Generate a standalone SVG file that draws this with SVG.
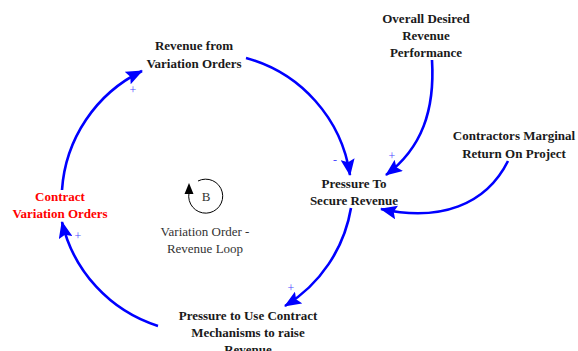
<svg xmlns="http://www.w3.org/2000/svg" width="578" height="351" viewBox="0 0 578 351">
  <style>
    text { font-family: 'Liberation Serif', 'Times New Roman', Tinos, 'DejaVu Serif', serif; }
    .node { font-size: 13px; font-weight: bold; fill: #1a1a1a; text-anchor: middle; }
    .red { fill: #ff0000; }
    .link { fill: none; stroke: #0000ff; stroke-width: 2.6; marker-end: url(#head); }
    .pol { font-size: 12px; fill: #4a4aff; text-anchor: middle; }
    .loop { font-size: 13px; fill: #333333; text-anchor: middle; }
  </style>
  <defs>
    <marker id="head" markerUnits="userSpaceOnUse" markerWidth="18" markerHeight="14" refX="16" refY="7" orient="auto">
      <path d="M0,0 L17,7 L0,14 L3,7 Z" fill="#0000ff"/>
    </marker>
  </defs>
  <rect width="578" height="351" fill="#ffffff"/>

  <!-- causal links -->
  <g id="connectors">
    <path class="link" d="M62,190 A143,143 0 0 1 142,71"/>
    <path class="link" d="M246,58 A143,143 0 0 1 350,175"/>
    <path class="link" d="M432,60 C435,110 422,148 386,175"/>
    <path class="link" d="M508,161 C486,205 440,222 381,209"/>
    <path class="link" d="M351,208 A143,143 0 0 1 285,306"/>
    <path class="link" d="M158,326 A143,143 0 0 1 62,222"/>
    <text class="pol" x="133" y="94">+</text>
    <text class="pol" x="335" y="164">-</text>
    <text class="pol" x="392" y="160">+</text>
    <text class="pol" x="291" y="292">+</text>
    <text class="pol" x="78" y="240">+</text>
  </g>

  <g id="revenue-from-vo">
    <text class="node" x="194" y="50">Revenue from</text>
    <text class="node" x="194" y="68">Variation Orders</text>
  </g>
  <g id="overall-desired">
    <text class="node" x="426" y="23">Overall Desired</text>
    <text class="node" x="426" y="40">Revenue</text>
    <text class="node" x="426" y="57">Performance</text>
  </g>
  <g id="contractors-margin">
    <text class="node" x="514" y="140">Contractors Marginal</text>
    <text class="node" x="514" y="158">Return On Project</text>
  </g>
  <g id="pressure-secure">
    <text class="node" x="354" y="188">Pressure To</text>
    <text class="node" x="354" y="205">Secure Revenue</text>
  </g>
  <g id="contract-vo">
    <text class="node red" x="60" y="201">Contract</text>
    <text class="node red" x="60" y="218">Variation Orders</text>
  </g>
  <g id="pressure-mechanisms">
    <text class="node" x="248" y="320">Pressure to Use Contract</text>
    <text class="node" x="248" y="337">Mechanisms to raise</text>
    <text class="node" x="248" y="354">Revenue</text>
  </g>

  <g id="loop-b">
    <path d="M189,193 A17,17 0 1 0 198,181" fill="none" stroke="#000000" stroke-width="1"/>
    <path d="M189,183 L193.5,194 L184.5,194 Z" fill="#000000"/>
    <text class="loop" x="206" y="201">B</text>
    <text class="loop" x="205" y="236">Variation Order -</text>
    <text class="loop" x="205" y="253">Revenue Loop</text>
  </g>
</svg>
